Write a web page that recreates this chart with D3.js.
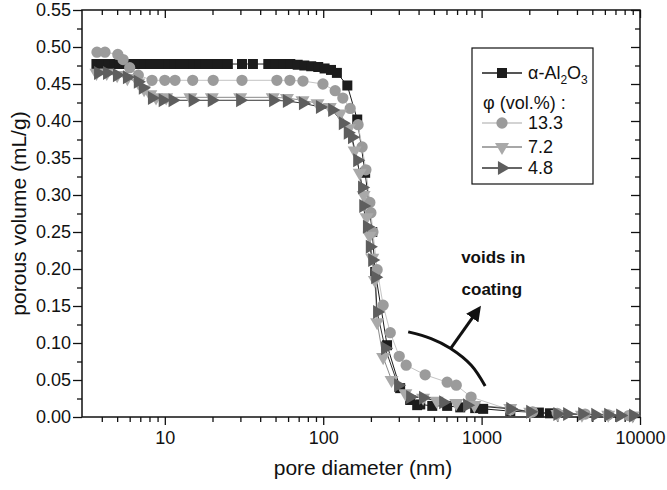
<!DOCTYPE html>
<html>
<head>
<meta charset="utf-8">
<script src="https://cdn.jsdelivr.net/npm/d3@7"></script>
<style>
  body { margin: 0; background: #fff; }
  text { font-family: "Liberation Sans", Arial, Helvetica, sans-serif; }
</style>
</head>
<body>
<div id="chart"></div>
<script>
// pore size distributions, [diameter nm, porous volume mL/g]
const alumina = [
  [3.7,0.477],[4.0,0.477],[4.4,0.477],[4.8,0.477],[5.2,0.477],[5.7,0.477],[6.2,0.477],[6.8,0.477],
  [7.4,0.477],[8.1,0.477],[8.8,0.477],[9.6,0.477],[10.5,0.477],[11.5,0.477],[12.6,0.477],[13.8,0.477],
  [15.1,0.477],[16.5,0.477],[18.0,0.477],[19.7,0.477],[21.5,0.477],[23.3,0.477],[25.0,0.477],
  [30.7,0.477],[36,0.477],[45,0.477],[50,0.477],[56,0.477],[62,0.477],[69,0.476],[76,0.475],
  [84,0.474],[93,0.473],[102,0.471],[112,0.469],[122,0.465],[142,0.448],[164,0.402],[184,0.33],
  [204,0.25],[213,0.196],[253,0.097],[306,0.039],[354,0.023],[392,0.016],[410,0.017],[488,0.015],
  [606,0.015],[733,0.013],[911,0.012],[1023,0.011],[1517,0.008],[2300,0.006],[2700,0.005]
];
const phi133 = [
  [3.73,0.493],[4.19,0.493],[5.05,0.49],[5.45,0.483],[6.0,0.472],[6.8,0.462],[8.3,0.455],[10.0,0.455],
  [11.6,0.455],[15.0,0.455],[20.2,0.455],[30.7,0.455],[51,0.455],[61.6,0.455],[74.5,0.454],[99.6,0.45],
  [119,0.441],[133,0.431],[148,0.417],[166,0.395],[176,0.365],[186,0.334],[197,0.29],[200,0.276],
  [206,0.25],[219,0.199],[239,0.151],[265,0.114],[302,0.082],[334,0.07],[440,0.057],[606,0.047],
  [692,0.043],[858,0.027],[1517,0.0095],[2100,0.007],[3000,0.005],[4500,0.004],[6300,0.003],[8500,0.002]
];
const phi72 = [
  [3.7,0.465],[4.3,0.465],[5.0,0.462],[5.8,0.458],[6.8,0.452],[7.4,0.443],[8.1,0.436],[8.8,0.432],
  [10.2,0.432],[14.5,0.432],[19.8,0.432],[29.9,0.432],[48,0.432],[59,0.431],[74,0.428],[92,0.424],
  [110,0.419],[128,0.41],[145,0.39],[158,0.36],[170,0.33],[180,0.3],[188,0.27],[196,0.245],
  [204,0.215],[212,0.185],[219,0.128],[239,0.081],[270,0.05],[330,0.032],[427,0.026],[520,0.022],
  [692,0.019],[900,0.016],[1517,0.012],[2027,0.007],[3010,0.004],[4300,0.003],[6300,0.003],[9000,0.002]
];
const phi48 = [
  [3.79,0.465],[4.32,0.465],[4.99,0.462],[5.77,0.459],[6.76,0.453],[7.27,0.445],[8.3,0.431],[9.7,0.428],
  [11.2,0.428],[15.0,0.428],[19.8,0.428],[29.9,0.428],[48.3,0.428],[59,0.427],[74.5,0.424],[95.4,0.419],
  [114,0.415],[133,0.397],[143,0.384],[152,0.378],[164,0.347],[176,0.31],[179,0.285],[189,0.257],
  [197,0.23],[204,0.212],[213,0.189],[219,0.142],[246,0.093],[297,0.043],[354,0.027],[427,0.026],
  [572,0.02],[810,0.016],[1517,0.011],[2027,0.007],[3010,0.004],[3470,0.004],[4320,0.004],[5220,0.003],
  [6300,0.003],[7500,0.002],[9050,0.002]
];

const xMajor = [10, 100, 1000, 10000];
const xMinor = [4,5,6,7,8,9,20,30,40,50,60,70,80,90,200,300,400,500,600,700,800,900,
  2000,3000,4000,5000,6000,7000,8000,9000];
const yMajor = [0,0.05,0.1,0.15,0.2,0.25,0.3,0.35,0.4,0.45,0.5,0.55];
const yMinor = [0.025,0.075,0.125,0.175,0.225,0.275,0.325,0.375,0.425,0.475,0.525];

const W = 667, H = 490;
const margin = {left: 82, right: 640, top: 10, bottom: 417};

const svg = d3.select("#chart").append("svg")
  .attr("width", W).attr("height", H);

const x = d3.scaleLog().domain([3, 10000]).range([margin.left, margin.right]);
const y = d3.scaleLinear().domain([0, 0.55]).range([margin.bottom, margin.top]);

// axes
function styleAxis(g) {
  g.select(".domain").remove();
  g.selectAll(".tick line").attr("stroke", "#111").attr("stroke-width", 1.3);
  g.selectAll(".tick text").attr("fill", "#111").attr("font-size", 18);
}

svg.append("g").attr("transform", `translate(0,${margin.bottom})`)
  .call(d3.axisBottom(x).tickValues(xMajor).tickFormat(d3.format("d")).tickSize(8).tickPadding(6))
  .call(styleAxis);
svg.append("g").attr("transform", `translate(0,${margin.bottom})`)
  .call(d3.axisBottom(x).tickValues(xMinor).tickFormat("").tickSize(5))
  .call(styleAxis);
svg.append("g").attr("transform", `translate(0,${margin.top})`)
  .call(d3.axisBottom(x).tickValues(xMajor).tickFormat("").tickSize(8))
  .call(styleAxis);
svg.append("g").attr("transform", `translate(0,${margin.top})`)
  .call(d3.axisBottom(x).tickValues(xMinor).tickFormat("").tickSize(5))
  .call(styleAxis);

svg.append("g").attr("transform", `translate(${margin.left},0)`)
  .call(d3.axisLeft(y).tickValues(yMajor).tickFormat(d3.format(".2f")).tickSize(9).tickPadding(2))
  .call(styleAxis);
svg.append("g").attr("transform", `translate(${margin.left},0)`)
  .call(d3.axisLeft(y).tickValues(yMinor).tickFormat("").tickSize(5))
  .call(styleAxis);
svg.append("g").attr("transform", `translate(${margin.right},0)`)
  .call(d3.axisLeft(y).tickValues(yMajor).tickFormat("").tickSize(9))
  .call(styleAxis);
svg.append("g").attr("transform", `translate(${margin.right},0)`)
  .call(d3.axisLeft(y).tickValues(yMinor).tickFormat("").tickSize(5))
  .call(styleAxis);

svg.append("rect")
  .attr("x", margin.left).attr("y", margin.top)
  .attr("width", margin.right - margin.left).attr("height", margin.bottom - margin.top)
  .attr("fill", "none").attr("stroke", "#111").attr("stroke-width", 1.5);

// titles
svg.append("text")
  .attr("x", (margin.left + margin.right) / 2 + 2).attr("y", 475)
  .attr("text-anchor", "middle").attr("font-size", 21).attr("fill", "#111")
  .text("pore diameter (nm)");
svg.append("text")
  .attr("transform", `translate(26,${(margin.top + margin.bottom) / 2}) rotate(-90)`)
  .attr("text-anchor", "middle").attr("font-size", 21).attr("fill", "#111")
  .text("porous volume (mL/g)");

// series
const series = [
  {data: alumina, shape: d3.symbolSquare, size: 100, rot: 0, fill: "#1c1c1c", line: "#1c1c1c", lw: 1},
  {data: phi133, shape: d3.symbolCircle, size: 100, rot: 0, fill: "#9b9b9b", line: "#c4c4c4", lw: 1},
  {data: phi72, shape: d3.symbolTriangle, size: 85, rot: 180, fill: "#a9a9a9", line: "#8a8a8a", lw: 1},
  {data: phi48, shape: d3.symbolTriangle, size: 85, rot: 90, fill: "#5e5e5e", line: "#333", lw: 1}
];

const line = d3.line().x(d => x(d[0])).y(d => y(d[1]));

series.forEach(s => {
  svg.append("path")
    .datum(s.data)
    .attr("d", line)
    .attr("fill", "none")
    .attr("stroke", s.line)
    .attr("stroke-width", s.lw);
});

series.forEach(s => {
  svg.append("g").selectAll("path")
    .data(s.data)
    .enter().append("path")
    .attr("d", d3.symbol().type(s.shape).size(s.size))
    .attr("transform", d => `translate(${x(d[0])},${y(d[1])}) rotate(${s.rot})`)
    .attr("fill", s.fill);
});

// annotation: voids in coating
const arcPts = [[344, 0.115], [480, 0.106], [634, 0.093], [860, 0.07], [1053, 0.042]];
svg.append("path")
  .datum(arcPts)
  .attr("d", d3.line().curve(d3.curveCatmullRom).x(d => x(d[0])).y(d => y(d[1])))
  .attr("fill", "none").attr("stroke", "#111").attr("stroke-width", 3);

svg.append("defs").append("marker")
  .attr("id", "arrow").attr("viewBox", "0 0 10 10")
  .attr("refX", 5).attr("refY", 5)
  .attr("markerWidth", 5).attr("markerHeight", 5)
  .attr("orient", "auto")
  .append("path").attr("d", "M0,0 L10,5 L0,10 Z").attr("fill", "#111");

svg.append("line")
  .attr("x1", x(640)).attr("y1", y(0.093))
  .attr("x2", x(930)).attr("y2", y(0.142))
  .attr("stroke", "#111").attr("stroke-width", 3)
  .attr("marker-end", "url(#arrow)");

svg.append("text")
  .attr("x", x(1185)).attr("y", y(0.208))
  .attr("text-anchor", "middle").attr("font-size", 17).attr("font-weight", "bold").attr("fill", "#111")
  .text("voids in");
svg.append("text")
  .attr("x", x(1160)).attr("y", y(0.165))
  .attr("text-anchor", "middle").attr("font-size", 17).attr("font-weight", "bold").attr("fill", "#111")
  .text("coating");

// legend
const lg = svg.append("g").attr("transform", "translate(472,48)");
lg.append("rect").attr("width", 121).attr("height", 136)
  .attr("fill", "#fff").attr("stroke", "#111").attr("stroke-width", 1.2);

const legendRows = [
  {s: series[0], yy: 25},
  {s: series[1], yy: 75},
  {s: series[2], yy: 99},
  {s: series[3], yy: 120}
];
const legendLabels = ["", "13.3", "7.2", "4.8"];

legendRows.forEach((r, i) => {
  lg.append("line").attr("x1", 10).attr("x2", 50).attr("y1", r.yy).attr("y2", r.yy)
    .attr("stroke", r.s.line).attr("stroke-width", 1.3);
  lg.append("path")
    .attr("d", d3.symbol().type(r.s.shape).size(r.s.size))
    .attr("transform", `translate(30,${r.yy}) rotate(${r.s.rot})`)
    .attr("fill", r.s.fill);
  if (i > 0) {
    lg.append("text").attr("x", 56).attr("y", r.yy + 6)
      .attr("font-size", 18).attr("fill", "#111").text(legendLabels[i]);
  }
});

const t0 = lg.append("text").attr("x", 56).attr("y", 31).attr("font-size", 18).attr("fill", "#111");
t0.append("tspan").text("α-Al");
t0.append("tspan").attr("font-size", 12).attr("dy", 5).text("2");
t0.append("tspan").attr("dy", -5).text("O");
t0.append("tspan").attr("font-size", 12).attr("dy", 5).text("3");

lg.append("text").attr("x", 11).attr("y", 61).attr("font-size", 18).attr("fill", "#111")
  .text("φ (vol.%) :");
</script>
</body>
</html>
